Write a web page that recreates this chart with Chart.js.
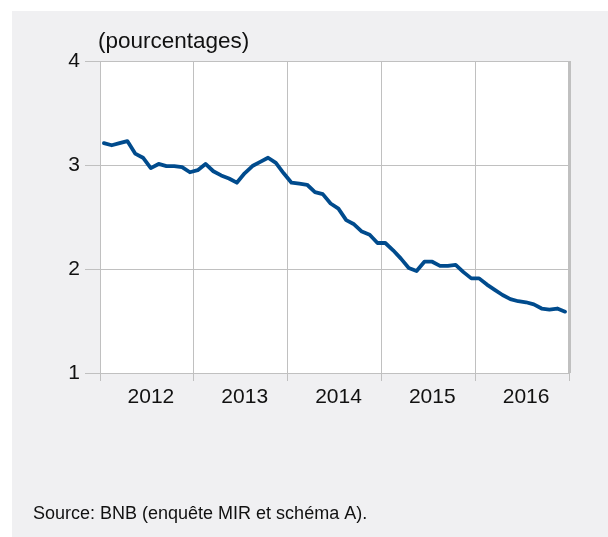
<!DOCTYPE html>
<html>
<head>
<meta charset="utf-8">
<script src="https://cdn.jsdelivr.net/npm/chart.js@4/dist/chart.umd.min.js"></script>
<style>
  html, body { margin: 0; padding: 0; background: #ffffff; }
  #wrap { position: relative; width: 608px; height: 537px; }
  canvas { display: block; }
</style>
</head>
<body>
<div id="wrap"><canvas id="c" width="608" height="537"></canvas></div>
<script>
// ---- Data (monthly, %) ----
const years = [2012, 2013, 2014, 2015, 2016];
const yTicks = [1, 2, 3, 4];
const rates2012 = [3.21, 3.19, 3.21, 3.23, 3.11, 3.07, 2.97, 3.01, 2.99, 2.99, 2.98, 2.93];
const rates2013 = [2.95, 3.01, 2.94, 2.90, 2.87, 2.83, 2.92, 2.99, 3.03, 3.07, 3.02, 2.92];
const rates2014 = [2.83, 2.82, 2.81, 2.74, 2.72, 2.63, 2.58, 2.47, 2.43, 2.36, 2.33, 2.25];
const rates2015 = [2.25, 2.18, 2.10, 2.01, 1.98, 2.07, 2.07, 2.03, 2.03, 2.04, 1.97, 1.91];
const rates2016 = [1.91, 1.85, 1.80, 1.75, 1.71, 1.69, 1.68, 1.66, 1.62, 1.61, 1.62, 1.59];
const titleText = '(pourcentages)';
const sourceText = 'Source: BNB (enquête MIR et schéma A).';

const allRates = [rates2012, rates2013, rates2014, rates2015, rates2016];
const points = [];
allRates.forEach((arr, yi) => {
  arr.forEach((v, m) => points.push({ x: years[yi] + (m + 0.5) / 12, y: v }));
});

const FONT = "'Liberation Sans', Arial, sans-serif";
const GRID = '#c0c0c0';

const decor = {
  id: 'decor',
  beforeDraw(chart) {
    const { ctx, chartArea } = chart;
    ctx.save();
    ctx.fillStyle = '#ffffff';
    ctx.fillRect(0, 0, chart.width, chart.height);
    ctx.fillStyle = '#f0f0f2';
    ctx.fillRect(12, 11, chart.width - 12, chart.height - 11);
    ctx.fillStyle = '#ffffff';
    ctx.fillRect(chartArea.left, chartArea.top, chartArea.right - chartArea.left, chartArea.bottom - chartArea.top);
    ctx.restore();
  },
  afterDraw(chart) {
    const { ctx } = chart;
    ctx.save();
    ctx.fillStyle = '#111111';
    ctx.textBaseline = 'middle';
    ctx.textAlign = 'left';
    ctx.font = '22.5px ' + FONT;
    ctx.fillText(titleText, 98, 42);
    ctx.font = '18px ' + FONT;
    ctx.fillText(sourceText, 33, 514);
    ctx.restore();
  }
};

new Chart(document.getElementById('c'), {
  type: 'line',
  data: {
    datasets: [{
      data: points,
      borderColor: '#004b8d',
      borderWidth: 3.8,
      pointRadius: 0,
      tension: 0,
      fill: false,
      borderJoinStyle: 'round',
      borderCapStyle: 'round'
    }]
  },
  options: {
    responsive: false,
    animation: false,
    devicePixelRatio: 1,
    layout: { padding: { top: 61, left: 10, right: 39, bottom: 116 } },
    plugins: { legend: { display: false }, tooltip: { enabled: false }, title: { display: false } },
    scales: {
      x: {
        type: 'linear',
        position: 'bottom',
        weight: 0,
        min: years[0],
        max: years[years.length - 1] + 1,
        afterBuildTicks(scale) {
          scale.ticks = years.concat([years[years.length - 1] + 1]).map(v => ({ value: v }));
        },
        afterFit(scale) { scale.height = 8; },
        ticks: { display: false },
        grid: {
          color: GRID,
          lineWidth: (c) => (c.tick && c.tick.value === years[years.length - 1] + 1 ? 3 : 1),
          drawTicks: true,
          tickLength: 8,
          tickColor: GRID,
          tickWidth: 1
        },
        border: { display: true, color: GRID, width: 1 }
      },
      xLabels: {
        type: 'linear',
        position: 'bottom',
        weight: 1,
        min: years[0],
        max: years[years.length - 1] + 1,
        afterBuildTicks(scale) {
          scale.ticks = years.map(v => ({ value: v + 0.5 }));
        },
        afterFit(scale) { scale.height = 40; },
        grid: { display: false, drawTicks: false },
        border: { display: false },
        ticks: {
          padding: 4,
          labelOffset: 4,
          maxRotation: 0,
          autoSkip: false,
          color: '#111111',
          font: { family: FONT, size: 21 },
          callback: (v) => String(Math.floor(v))
        }
      },
      y: {
        type: 'linear',
        min: yTicks[0],
        max: yTicks[yTicks.length - 1],
        afterBuildTicks(scale) {
          scale.ticks = yTicks.map(v => ({ value: v }));
        },
        afterFit(scale) { scale.width = 90; },
        grid: {
          color: GRID,
          lineWidth: 1,
          drawTicks: true,
          tickLength: 15,
          tickColor: GRID
        },
        border: { display: true, color: GRID, width: 1 },
        ticks: {
          padding: 5,
          color: '#111111',
          font: { family: FONT, size: 21 },
          callback: (v) => String(v)
        }
      }
    }
  },
  plugins: [decor]
});
</script>
</body>
</html>
